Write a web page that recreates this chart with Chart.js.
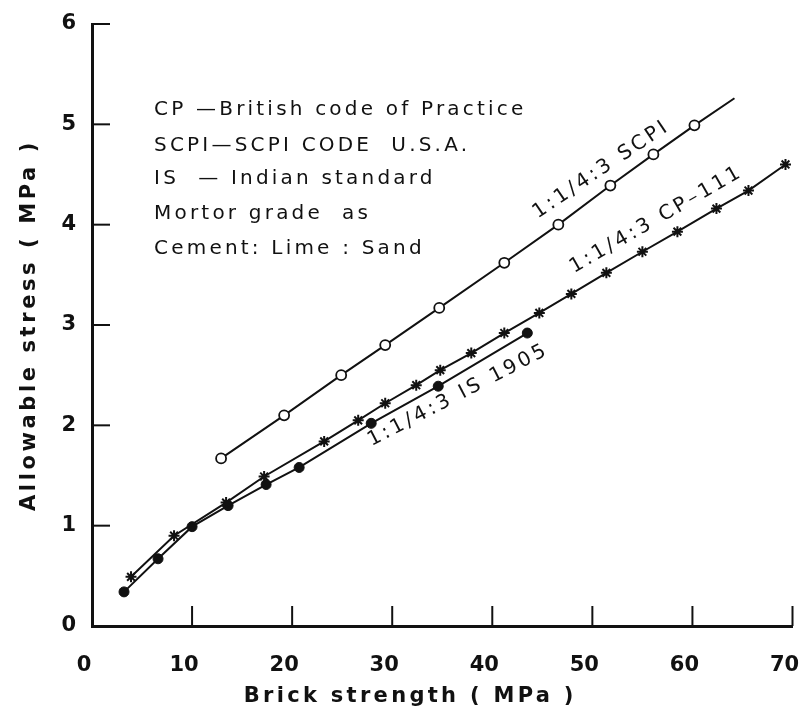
<!DOCTYPE html>
<html><head><meta charset="utf-8">
<script src="https://cdn.jsdelivr.net/npm/chart.js@4"></script>
<style>html,body{margin:0;padding:0;background:#fff}canvas{display:block}</style>
</head><body>
<canvas id="c" width="800" height="718"></canvas>
<script>
// ---- data ----
const xTicks = [0, 10, 20, 30, 40, 50, 60, 70];
const yTicks = [0, 1, 2, 3, 4, 5, 6];

const scpiX = [12.9, 19.2, 24.9, 29.3, 34.7, 41.2, 46.6, 51.8, 56.1, 60.2, 64.2];
const scpiY = [1.67, 2.10, 2.50, 2.80, 3.17, 3.62, 4.00, 4.39, 4.70, 4.99, 5.26];

const cpX = [3.9, 8.2, 13.4, 17.2, 23.2, 26.6, 29.3, 32.4, 34.8, 37.9, 41.2, 44.7, 47.9, 51.4, 55.0, 58.5, 62.4, 65.6, 69.3];
const cpY = [0.49, 0.90, 1.23, 1.49, 1.84, 2.05, 2.22, 2.40, 2.55, 2.72, 2.92, 3.12, 3.31, 3.52, 3.73, 3.93, 4.16, 4.34, 4.60];

const isX = [3.2, 6.6, 10.0, 13.6, 17.4, 20.7, 27.9, 34.6, 43.5];
const isY = [0.34, 0.67, 0.99, 1.20, 1.41, 1.58, 2.02, 2.39, 2.92];

const xTitle = "Brick strength ( MPa )";
const yTitle = "Allowable stress ( MPa )";

const legendLines = [
  "CP \u2014British code of Practice",
  "SCPI\u2014SCPI CODE  U.S.A.",
  "IS  \u2014 Indian standard",
  "Mortor grade  as",
  "Cement: Lime : Sand"
];
const legendX = 6.2;
const legendY = [5.14, 4.79, 4.46, 4.11, 3.76];

const lineLabels = [
  { text: "1:1/4:3 SCPI",   x: 50.9, y: 4.55, angle: -34 },
  { text: "1:1/4:3 CP\u2013111", x: 56.4, y: 4.05, angle: -30 },
  { text: "1:1/4:3 IS 1905", x: 36.6, y: 2.30, angle: -27.5 }
];

const pts = (xs, ys) => xs.map((v, i) => ({ x: v, y: ys[i] }));
const INK = '#111';
const FONT = '"DejaVu Sans", sans-serif';

const decor = {
  id: 'decor',
  afterDraw(chart) {
    const { ctx, scales: { x, y }, chartArea: a } = chart;
    ctx.save();
    ctx.strokeStyle = INK; ctx.lineWidth = 2;
    xTicks.forEach(v => {
      if (v === 0) return;
      const px = x.getPixelForValue(v);
      ctx.beginPath(); ctx.moveTo(px, a.bottom); ctx.lineTo(px, a.bottom - 20); ctx.stroke();
    });
    yTicks.forEach(v => {
      if (v === 0) return;
      const py = y.getPixelForValue(v);
      ctx.beginPath(); ctx.moveTo(a.left, py); ctx.lineTo(a.left + 18, py); ctx.stroke();
    });
    ctx.fillStyle = INK;
    ctx.font = '20px ' + FONT;
    ctx.letterSpacing = '3.2px';
    ctx.textBaseline = 'middle'; ctx.textAlign = 'left';
    legendLines.forEach((t, i) => ctx.fillText(t, x.getPixelForValue(legendX), y.getPixelForValue(legendY[i])));
    lineLabels.forEach(l => {
      ctx.save();
      ctx.translate(x.getPixelForValue(l.x), y.getPixelForValue(l.y));
      ctx.rotate(l.angle * Math.PI / 180);
      ctx.textAlign = 'center';
      ctx.fillText(l.text, 0, 0);
      ctx.restore();
    });
    // axis titles
    ctx.font = 'bold 21px ' + FONT;
    ctx.letterSpacing = '3.3px';
    ctx.textAlign = 'center';
    ctx.fillText(xTitle, x.getPixelForValue(31.8), chart.height - 21);
    ctx.save();
    ctx.translate(30, (a.top + a.bottom) / 2);
    ctx.rotate(-Math.PI / 2);
    ctx.letterSpacing = '3.6px';
    ctx.fillText(yTitle, 0, 0);
    ctx.restore();
    ctx.restore();
  }
};

new Chart(document.getElementById('c'), {
  type: 'scatter',
  data: {
    datasets: [
      {
        label: '1:1/4:3 SCPI', data: pts(scpiX, scpiY), showLine: true,
        borderColor: INK, borderWidth: 2, pointStyle: 'circle',
        pointRadius: c => c.dataIndex === scpiX.length - 1 ? 0 : 5,
        pointBackgroundColor: '#fff', pointBorderColor: INK, pointBorderWidth: 1.8
      },
      {
        label: '1:1/4:3 CP-111', data: pts(cpX, cpY), showLine: true,
        borderColor: INK, borderWidth: 2, pointStyle: 'star',
        pointRadius: 5.5, pointBorderColor: INK, pointBorderWidth: 2
      },
      {
        label: '1:1/4:3 IS 1905', data: pts(isX, isY), showLine: true,
        borderColor: INK, borderWidth: 2, pointStyle: 'circle',
        pointRadius: 5, pointBackgroundColor: INK, pointBorderColor: INK, pointBorderWidth: 1
      }
    ]
  },
  options: {
    responsive: false, animation: false, devicePixelRatio: 1,
    clip: false,
    layout: { padding: { top: 24, right: 3, left: 0, bottom: 0 } },
    plugins: { legend: { display: false }, tooltip: { enabled: false } },
    elements: { line: { tension: 0 } },
    scales: {
      x: {
        type: 'linear', min: 0, max: 70,
        afterBuildTicks: s => { s.ticks = xTicks.map(v => ({ value: v })); },
        afterFit: s => { s.height = 92; s.paddingLeft = 0; s.paddingRight = 0; },
        grid: { display: false, drawTicks: false },
        border: { display: true, color: INK, width: 3 },
        ticks: { color: INK, padding: 27, labelOffset: -8, maxRotation: 0, font: { family: FONT, size: 21, weight: 'bold' } },
        title: { display: false, text: xTitle }
      },
      y: {
        type: 'linear', min: 0, max: 6,
        afterBuildTicks: s => { s.ticks = yTicks.map(v => ({ value: v })); },
        afterFit: s => { s.width = 92; s.paddingTop = 0; s.paddingBottom = 0; },
        grid: { display: false, drawTicks: false },
        border: { display: true, color: INK, width: 3 },
        ticks: { color: INK, padding: 16, font: { family: FONT, size: 21, weight: 'bold' } },
        title: { display: false, text: yTitle }
      }
    }
  },
  plugins: [decor]
});
</script>
</body></html>
